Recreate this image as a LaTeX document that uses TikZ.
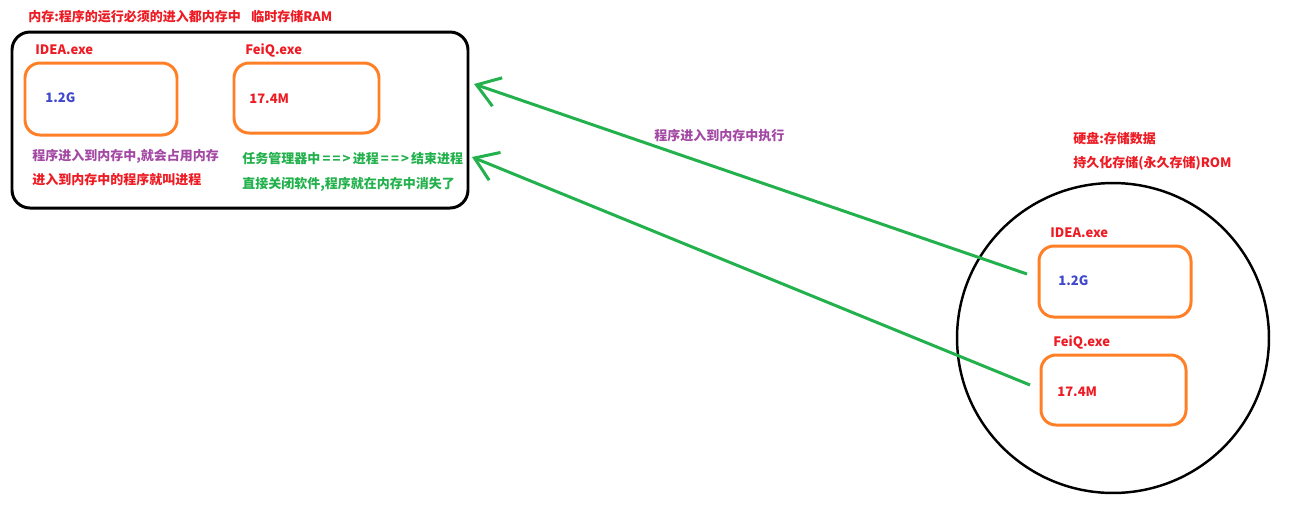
\documentclass[tikz,border=0pt]{standalone}
\usepackage{fontspec}
\setmainfont{Noto Sans CJK SC}
\usetikzlibrary{arrows.meta}

\definecolor{pred}{HTML}{ED1C24}
\definecolor{porange}{HTML}{FF7F27}
\definecolor{pblue}{HTML}{3F48CC}
\definecolor{ppurple}{HTML}{A349A4}
\definecolor{pgreen}{HTML}{22B14C}

\tikzset{
  lbl/.style={anchor=west, inner sep=0pt, font=\bfseries\fontsize{7.4}{9}\selectfont},
  procbox/.style={draw=porange, line width=1.7pt, rounded corners=0.3cm},
  load/.style={draw=pgreen, line width=1.7pt, -{Straight Barb[length=0.44cm, width=0.6cm, line width=1.7pt]}}
}
\newcommand{\goesto}{\,=\,=\,>\,}

\begin{document}
\begin{tikzpicture}[x=0.02cm, y=-0.02cm]
            \useasboundingbox (0,0) rectangle (1315,515);
            % memory (RAM)
            \node[lbl, text=pred] (ramtitle) at (28,17) {内存:程序的运行必须的进入都内存中\hspace{0.8em}临时存储RAM};
            \draw[line width=1.7pt, rounded corners=0.36cm] (12,32) rectangle (468,208);
            \node[lbl, text=pred] (ideaname) at (35,50) {IDEA.exe};
            \draw[procbox] (25,63) rectangle (177,135);
            \node[lbl, text=pblue] (ideasize) at (45,98) {1.2G};
            \node[lbl, text=pred] (feiqname) at (245,50) {FeiQ.exe};
            \draw[procbox] (234,63) rectangle (379,133);
            \node[lbl, text=pred] (feiqsize) at (249,99) {17.4M};
            \node[lbl, text=ppurple] (occupy) at (32,156) {程序进入到内存中,就会占用内存};
            \node[lbl, text=pred] (procname) at (32,180) {进入到内存中的程序就叫进程};
            \node[lbl, text=pgreen] (taskmgr) at (242,159) {任务管理器中\goesto 进程\goesto 结束进程};
            \node[lbl, text=pgreen] (closeapp) at (242,184) {直接关闭软件,程序就在内存中消失了};
            % disk (ROM)
            \node[lbl, text=pred] (disktitle) at (1073,139) {硬盘:存储数据};
            \node[lbl, text=pred] (disksub) at (1073,163) {持久化存储(永久存储)ROM};
            \draw[line width=1.4pt] (1113,338) ellipse [x radius=3.12cm, y radius=3.1cm];
            \node[lbl, text=pred] (ideadname) at (1050,233) {IDEA.exe};
            \draw[procbox] (1039,246) rectangle (1191,317);
            \node[lbl, text=pblue] (ideadsize) at (1058,281) {1.2G};
            \node[lbl, text=pred] (feiqdname) at (1053,342) {FeiQ.exe};
            \draw[procbox] (1041,355) rectangle (1186,425);
            \node[lbl, text=pred] (feiqdsize) at (1057,392) {17.4M};
            % loading into memory
            \coordinate (ideafrom) at (1027,274);
            \coordinate (ideato) at (474,84);
            \coordinate (feiqfrom) at (1030,385);
            \coordinate (feiqto) at (472,157);
            \draw[load] (ideafrom) -- (ideato);
            \draw[load] (feiqfrom) -- (feiqto);
            \node[lbl, text=ppurple] (execlbl) at (654,136) {程序进入到内存中执行};
\end{tikzpicture}
\end{document}
